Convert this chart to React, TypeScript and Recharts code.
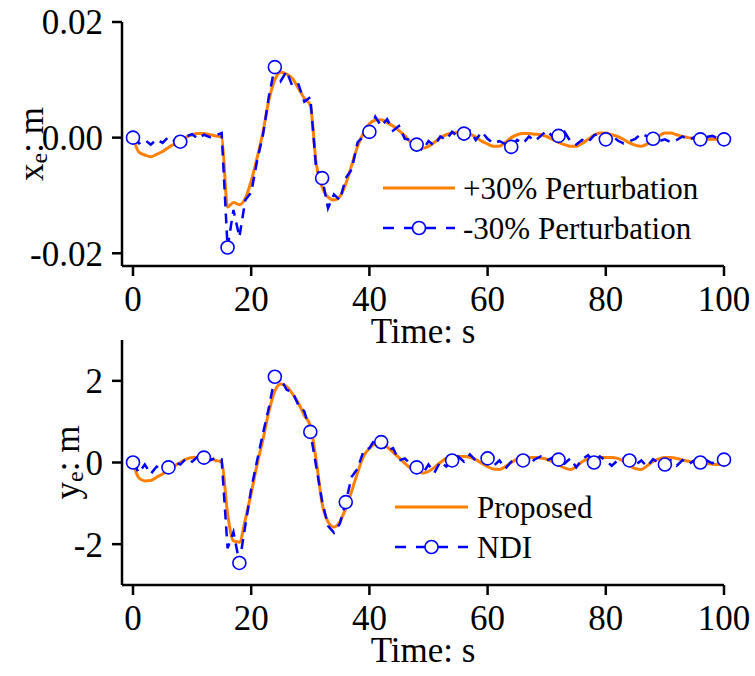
import React from 'react';
import { LineChart, Line, XAxis, YAxis, Legend, Label } from 'recharts';

// time grid, one sample per second
const time: number[] = Array.from({ length: 101 }, (_, i) => i);

// x_e (m), +30% perturbation
const xePlus = [
  0.0, -0.0025, -0.003, -0.0033, -0.0029, -0.0024, -0.0017, -0.0011, -0.0005, 0.0001,
  0.0005, 0.0007, 0.0007, 0.0005, 0.0003, 0.0001, -0.012, -0.0112, -0.0116, -0.0105,
  -0.0075, -0.0035, 0.001, 0.0065, 0.01, 0.0113, 0.011, 0.0102, 0.0085, 0.0068,
  0.0056, -0.0045, -0.0085, -0.0103, -0.0108, -0.0102, -0.008, -0.0048, -0.0015, 0.0008,
  0.0024, 0.003, 0.0031, 0.0026, 0.002, 0.0012, 0.0003, -0.0008, -0.0015, -0.0018,
  -0.0015, -0.0008, 0.0, 0.0005, 0.0008, 0.0009, 0.0009, 0.0006, 0.0001, -0.0006,
  -0.0011, -0.0015, -0.0015, -0.0008, 0.0, 0.0005, 0.0007, 0.0007, 0.0006, 0.0005,
  0.0002, -0.0003, -0.0008, -0.0012, -0.0015, -0.0015, -0.001, -0.0003, 0.0004, 0.0008,
  0.0008, 0.0005, 0.0002, -0.0003, -0.0009, -0.0013, -0.0015, -0.0011, -0.0004, 0.0003,
  0.0008, 0.0008, 0.0005, 0.0002, 0.0, -0.0002, -0.0003, -0.0003, -0.0003, -0.0003,
  -0.0003,
];

// x_e (m), -30% perturbation
const xeMinus = [
  0.0, -0.001, -0.0004, -0.0012, -0.0003, -0.0009, 0.0001, -0.0006, -0.0007, 0.0002,
  0.0006, -0.0002, 0.0005, 0.0001, 0.0004, 0.0008, -0.019, -0.0125, -0.0172, -0.0108,
  -0.0095, -0.004, 0.0005, 0.0072, 0.0122, 0.0098, 0.0115, 0.0088, 0.0092, 0.0062,
  0.007, -0.0055, -0.007, -0.0122, -0.0098, -0.0108, -0.007, -0.0055, -0.0008, 0.0002,
  0.001, 0.0036, 0.002, 0.0032, 0.0012, 0.002, -0.0002, -0.0004, -0.0012, -0.0022,
  -0.0006, -0.0014, 0.0002, -0.0004, 0.001, 0.0002, 0.0007, 0.0012, -0.0004, 0.001,
  -0.0002, -0.001, -0.0006, -0.0011, -0.0016, -0.0004, -0.001, 0.0002, -0.0006, 0.0003,
  0.0012, 0.0002, 0.0003, 0.001, -0.0006, -0.0012, -0.0004, -0.0008, 0.0004, 0.0008,
  -0.0003, 0.0004, -0.0005, -0.001, -0.0006, -0.0002, 0.0007, 0.0002, -0.0002, -0.0006,
  -0.0003, -0.0008, -0.0004, 0.0002, -0.0004, 0.0001, -0.0003, 0.0001, 0.0003, -0.0001,
  -0.0003,
];

// y_e (m), proposed
const yeProposed = [
  0.0, -0.38, -0.45, -0.44, -0.36, -0.28, -0.18, -0.08, 0.0, 0.08,
  0.12, 0.13, 0.12, 0.09, 0.05, 0.01, -1.25, -1.92, -1.95, -1.4,
  -0.75, -0.05, 0.57, 1.25, 1.75, 1.92, 1.86, 1.68, 1.45, 1.15,
  0.9, 0.05, -1.0, -1.45, -1.58, -1.45, -1.12, -0.7, -0.25, 0.15,
  0.35, 0.45, 0.46, 0.38, 0.25, 0.12, -0.02, -0.14, -0.22, -0.26,
  -0.22, -0.12, 0.0, 0.1, 0.14, 0.15, 0.15, 0.13, 0.07, -0.02,
  -0.1, -0.16, -0.17, -0.1, 0.0, 0.08, 0.12, 0.12, 0.12, 0.11,
  0.08, 0.02, -0.06, -0.13, -0.17, -0.1, 0.02, 0.09, 0.12, 0.12,
  0.12, 0.12, 0.1, 0.03, -0.07, -0.15, -0.17, -0.08, 0.03, 0.09,
  0.12, 0.12, 0.1, 0.06, 0.03, 0.01, 0.0, -0.02, -0.04, -0.05,
  -0.05,
];

// y_e (m), NDI
const yeNdi = [
  0.0, -0.25, -0.05, -0.28, -0.1, -0.2, -0.12, 0.02, -0.05, 0.1,
  0.02, 0.15, 0.12, 0.05, 0.12, 0.08, -2.1, -1.7, -2.46, -1.55,
  -0.65, 0.05, 0.72, 1.35, 2.1, 2.05, 1.78, 1.72, 1.4, 1.25,
  0.75, -0.1, -0.95, -1.55, -1.72, -1.5, -0.97, -0.35, -0.15, 0.28,
  0.35, 0.58, 0.5, 0.28, 0.35, 0.05, 0.1, -0.05, -0.12, -0.28,
  -0.05, -0.25, 0.02, -0.1, 0.05, 0.15, 0.02, 0.2, 0.05, 0.12,
  0.1, -0.08, 0.05, -0.15, 0.02, 0.1, 0.05, -0.05, 0.08, 0.15,
  0.05, 0.12, 0.07, -0.03, 0.1, -0.12, 0.08, 0.18, 0.0, 0.15,
  0.05, -0.08, 0.05, 0.1, 0.05, -0.06, 0.05, -0.1, 0.08, -0.02,
  -0.05, 0.05, -0.08, 0.06, -0.04, 0.05, 0.0, 0.06, -0.02, 0.08,
  0.07,
];

const xeMarkers = [0, 8, 16, 24, 32, 40, 48, 56, 64, 72, 80, 88, 96, 100];
const yeMarkers = [0, 6, 12, 18, 24, 30, 36, 42, 48, 54, 60, 66, 72, 78, 84, 90, 96, 100];

const timeTicks = [0, 20, 40, 60, 80, 100];
const xeTicks = [-0.02, 0, 0.02];
const yeTicks = [-2, 0, 2];

const xeData = time.map((t, i) => ({ t, a: xePlus[i], b: xeMinus[i] }));
const yeData = time.map((t, i) => ({ t, a: yeProposed[i], b: yeNdi[i] }));

const FONT = '"Liberation Serif", "Times New Roman", serif';
const ORANGE = '#ff8000';
const BLUE = '#0000ff';

const markerDot = (markers: number[]) => (props: any) => {
  const { cx, cy, payload, index } = props;
  if (!markers.includes(payload.t)) return <g key={index} />;
  return <circle key={index} cx={cx} cy={cy} r={6.5} fill="#fff" stroke={BLUE} strokeWidth={1.6} />;
};

const legendContent = (names: string[], lineLen: number, gap: number) => () => (
  <div style={{ fontFamily: FONT, fontSize: 31, color: '#000', lineHeight: 1 }}>
    {names.map((name, i) => (
      <div key={name} style={{ display: 'flex', alignItems: 'center', height: 40 }}>
        <svg width={lineLen} height={20} style={{ marginRight: gap }}>
          {i === 0 ? (
            <line x1={0} y1={10} x2={lineLen} y2={10} stroke={ORANGE} strokeWidth={3} />
          ) : (
            <g>
              <line x1={0} y1={10} x2={lineLen} y2={10} stroke={BLUE} strokeWidth={2.5} strokeDasharray="11 10" />
              <circle cx={lineLen / 2} cy={10} r={6.5} fill="#fff" stroke={BLUE} strokeWidth={1.6} />
            </g>
          )}
        </svg>
        <span>{name}</span>
      </div>
    ))}
  </div>
);

const yLabel = (main: string, sub: string, cx: number) => (props: any) => {
  const vb = props.viewBox;
  const cy = vb.y + vb.height / 2;
  return (
    <text
      x={cx}
      y={cy}
      transform={`rotate(-90 ${cx} ${cy})`}
      textAnchor="middle"
      dominantBaseline="central"
      fontFamily={FONT}
      fontSize={35}
      fill="#000"
    >
      {main}
      <tspan dy={8} fontSize={24}>{sub}</tspan>
      <tspan dy={-8}>: m</tspan>
    </text>
  );
};

const xLabel = (offset: number) => (props: any) => {
  const vb = props.viewBox;
  return (
    <text
      x={vb.x + vb.width / 2}
      y={vb.y + offset}
      textAnchor="middle"
      fontFamily={FONT}
      fontSize={35}
      fill="#000"
    >
      Time: s
    </text>
  );
};

const tickStyle = { fontFamily: FONT, fontSize: 35, fill: '#000' };
const axisLine = { stroke: '#000', strokeWidth: 2.5 };
const tickLine = { stroke: '#000', strokeWidth: 2.5 };

interface PanelProps {
  data: { t: number; a: number; b: number }[];
  height: number;
  top: number;
  xHeight: number;
  domain: [number, number];
  ticks: number[];
  fmt: (v: number) => string;
  markers: number[];
  names: string[];
  labelMain: string;
  labelX: number;
  legendLeft: number;
  legendTop: number;
  legendLine: number;
  legendGap: number;
}

const Panel: React.FC<PanelProps> = (p) => (
  <LineChart width={755} height={p.height} data={p.data} margin={{ top: p.top, right: 31, bottom: 0, left: 0 }}>
    <XAxis
      dataKey="t"
      type="number"
      domain={[0, 100]}
      ticks={timeTicks}
      padding={{ left: 11, right: 0 }}
      height={p.xHeight}
      tick={tickStyle}
      tickSize={10}
      tickMargin={10}
      axisLine={axisLine}
      tickLine={tickLine}
    >
      <Label content={xLabel(77)} />
    </XAxis>
    <YAxis
      type="number"
      domain={p.domain}
      allowDataOverflow
      ticks={p.ticks}
      tickFormatter={p.fmt}
      width={122}
      tick={tickStyle}
      tickSize={10}
      tickMargin={9}
      axisLine={axisLine}
      tickLine={tickLine}
    >
      <Label content={yLabel(p.labelMain, 'e', p.labelX)} />
    </YAxis>
    <Legend
      layout="horizontal"
      verticalAlign="middle"
      align="center"
      content={legendContent(p.names, p.legendLine, p.legendGap)}
      wrapperStyle={{ left: p.legendLeft, top: p.legendTop, width: 360 }}
    />
    <Line
      dataKey="a"
      type="monotone"
      stroke={ORANGE}
      strokeWidth={3}
      dot={false}
      activeDot={false}
      isAnimationActive={false}
    />
    <Line
      dataKey="b"
      type="linear"
      stroke={BLUE}
      strokeWidth={2.5}
      strokeDasharray="10 7"
      dot={markerDot(p.markers)}
      activeDot={false}
      isAnimationActive={false}
    />
  </LineChart>
);

export default function App() {
  return (
    <div style={{ position: 'absolute', left: 0, top: 0, width: 755, height: 676, background: '#fff' }}>
      <div style={{ position: 'absolute', left: 0, top: 0 }}>
        <Panel
          data={xeData}
          height={360}
          top={22}
          xHeight={94}
          domain={[-0.0222, 0.02]}
          ticks={xeTicks}
          fmt={(v) => v.toFixed(2)}
          markers={xeMarkers}
          names={['+30% Perturbation', '-30% Perturbation']}
          labelMain="x"
          labelX={31}
          legendLeft={383}
          legendTop={168}
          legendLine={72}
          legendGap={8}
        />
      </div>
      <div style={{ position: 'absolute', left: 0, top: 320 }}>
        <Panel
          data={yeData}
          height={356}
          top={20}
          xHeight={91}
          domain={[-3, 3]}
          ticks={yeTicks}
          fmt={(v) => String(v)}
          markers={yeMarkers}
          names={['Proposed', 'NDI']}
          labelMain="y"
          labelX={67}
          legendLeft={395}
          legendTop={167}
          legendLine={73}
          legendGap={9}
        />
      </div>
    </div>
  );
}
